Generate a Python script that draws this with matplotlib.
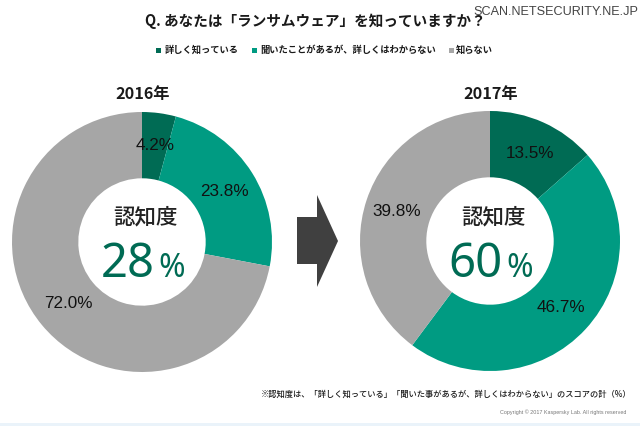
import matplotlib
matplotlib.use('Agg')
import matplotlib.pyplot as plt
from matplotlib.patches import Polygon, Rectangle

plt.rcParams['font.family'] = ['Noto Sans CJK JP', 'DejaVu Sans']

W, H = 640, 426
categories = ['詳しく知っている', '聞いたことがあるが、詳しくはわからない', '知らない']
values_2016 = [4.2, 23.8, 72.0]
values_2017 = [13.5, 46.7, 39.8]
years = ['2016年', '2017年']
awareness = ['28', '60']
colors = ['#006b54', '#009b82', '#a6a6a6']

fig = plt.figure(figsize=(W / 100, H / 100), dpi=100, facecolor='white')
bg = fig.add_axes([0, 0, 1, 1], zorder=10)
bg.set_xlim(0, W)
bg.set_ylim(H, 0)
bg.axis('off')
bg.patch.set_alpha(0)


def px(x, y, s, size, **kw):
    kw.setdefault('ha', 'center')
    kw.setdefault('va', 'center')
    kw.setdefault('color', '#1a1a1a')
    bg.text(x, y, s, fontsize=size, **kw)


def donut(cx, cy, r, vals):
    ax = fig.add_axes([(cx - r) / W, 1 - (cy + r) / H, 2 * r / W, 2 * r / H], zorder=1)
    ax.pie(vals, colors=colors, startangle=90, counterclock=False, radius=1,
           wedgeprops=dict(width=0.51, linewidth=0))
    ax.set_xlim(-1, 1)
    ax.set_ylim(-1, 1)
    ax.axis('off')


donut(142, 242, 130, values_2016)
donut(490, 241, 130, values_2017)

# Title and watermark
px(315, 21, 'Q. あなたは「ランサムウェア」を知っていますか？', 10.5, fontweight='bold')
px(638, 12, 'SCAN.NETSECURITY.NE.JP', 9.1, ha='right', color='#444444',
   family=['Liberation Sans'])

# Legend
leg_x = [156, 252, 449]
txt_x = [164.5, 260, 456]
for lx, tx, c, s in zip(leg_x, txt_x, colors, categories):
    bg.add_patch(Rectangle((lx, 47.5), 5, 5, color=c, lw=0))
    px(tx, 50, s, 6.7, ha='left', fontweight='bold')

# Year labels
px(143, 94, years[0], 11.7, fontweight='bold')
px(491, 94, years[1], 11.7, fontweight='bold')

# Slice labels
labels_2016 = [(155, 146), (224.5, 191), (68, 303)]
labels_2017 = [(530, 153), (561, 308), (396.5, 211)]
for (x, y), v in zip(labels_2016, values_2016):
    px(x, y, f'{v:.1f}%', 12.3, family=['Liberation Sans'], color='#111111')
for (x, y), v in zip(labels_2017, values_2017):
    px(x, y, f'{v:.1f}%', 12.3, family=['Liberation Sans'], color='#111111')

# Centre text
for cx, val in zip((145, 493), awareness):
    px(cx, 217, '認知度', 15.5, fontweight='medium', color='#222222')
    bg.text(cx + 10, 277, val, fontsize=34, ha='right', va='baseline',
            color=colors[0], family=['Noto Sans'], fontweight='bold')
    bg.text(cx + 13, 277, '%', fontsize=23, ha='left', va='baseline',
            color=colors[0], family=['Noto Sans'])

# Arrow
bg.add_patch(Polygon([(297, 217), (317, 217), (317, 195), (338, 241),
                      (317, 287), (317, 264), (297, 264)], color='#404040', lw=0))

# Footnotes
px(632, 394, '※認知度は、「詳しく知っている」「聞いた事があるが、詳しくはわからない」のスコアの計（%）',
   5.95, ha='right', fontweight='medium')
px(626, 412, 'Copyright © 2017 Kaspersky Lab. All rights reserved', 3.9, ha='right',
   color='#777777', family=['Liberation Sans'])
bg.add_patch(Rectangle((0, 423), W, 3, color='#eaf3fa', lw=0))

fig.savefig('out.png', dpi=100)
